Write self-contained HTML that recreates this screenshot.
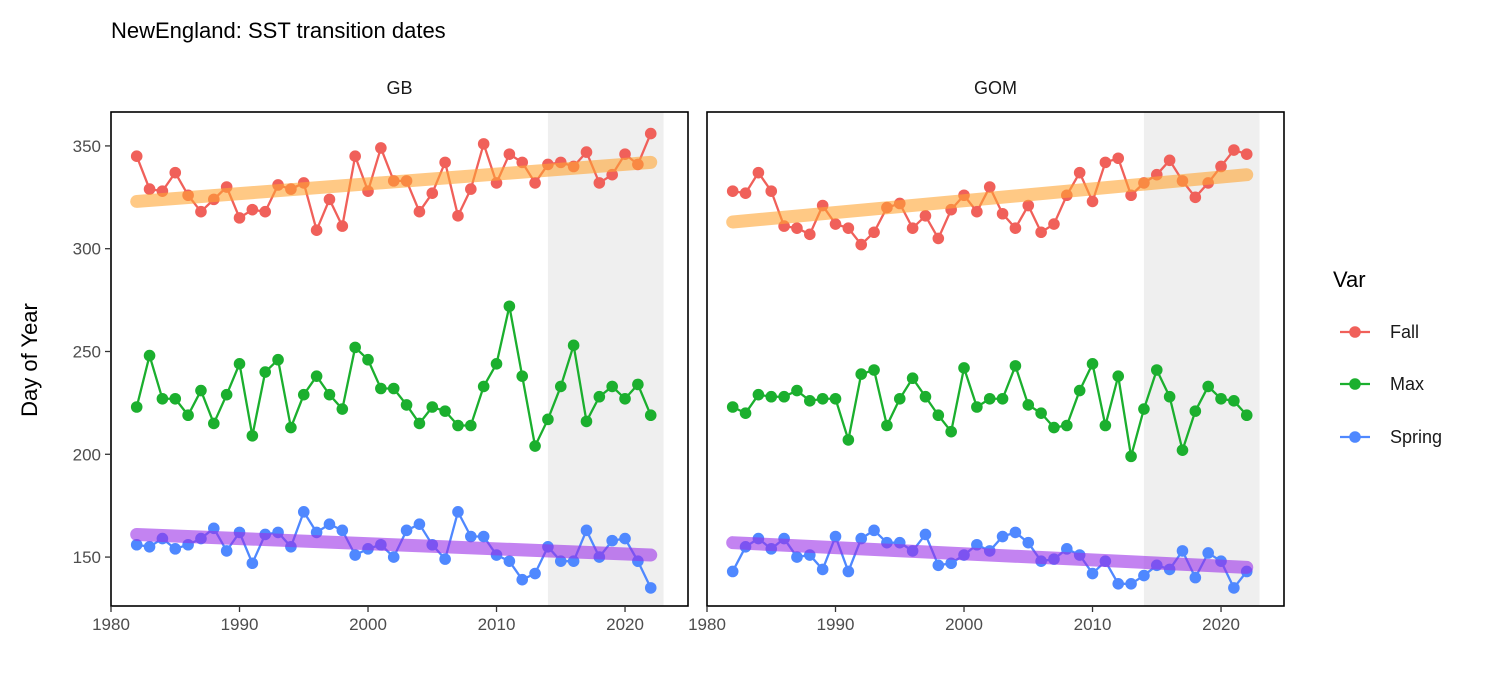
<!DOCTYPE html>
<html><head><meta charset="utf-8"><style>
body{margin:0;background:#fff;}
svg{display:block;font-family:"Liberation Sans",Arial,sans-serif;}
</style></head><body>
<svg id="c" width="1512" height="680"></svg>
<script>
const years=[];for(let y=1982;y<=2022;y++)years.push(y);
const gbFall=[345,329,328,337,326,318,324,330,315,319,318,331,329,332,309,324,311,345,328,349,333,333,318,327,342,316,329,351,332,346,342,332,341,342,340,347,332,336,346,341,356];
const gbMax=[223,248,227,227,219,231,215,229,244,209,240,246,213,229,238,229,222,252,246,232,232,224,215,223,221,214,214,233,244,272,238,204,217,233,253,216,228,233,227,234,219];
const gbSpring=[156,155,159,154,156,159,164,153,162,147,161,162,155,172,162,166,163,151,154,156,150,163,166,156,149,172,160,160,151,148,139,142,155,148,148,163,150,158,159,148,135];
const gomFall=[328,327,337,328,311,310,307,321,312,310,302,308,320,322,310,316,305,319,326,318,330,317,310,321,308,312,326,337,323,342,344,326,332,336,343,333,325,332,340,348,346];
const gomMax=[223,220,229,228,228,231,226,227,227,207,239,241,214,227,237,228,219,211,242,223,227,227,243,224,220,213,214,231,244,214,238,199,222,241,228,202,221,233,227,226,219];
const gomSpring=[143,155,159,154,159,150,151,144,160,143,159,163,157,157,153,161,146,147,151,156,153,160,162,157,148,149,154,151,142,148,137,137,141,146,144,153,140,152,148,135,143];
const gbFallTrend=[323,342];
const gbSpringTrend=[161,151];
const gomFallTrend=[313,336];
const gomSpringTrend=[157,145];
const xTicks=[1980,1990,2000,2010,2020];
const yTicks=[150,200,250,300,350];
const shade=[2014,2023];

const NS="http://www.w3.org/2000/svg";
const svg=document.getElementById('c');
function mk(t,a,p){const e=document.createElementNS(NS,t);for(const k in a)e.setAttribute(k,a[k]);(p||svg).appendChild(e);return e;}
const pTop=112,pBot=606,xw=577;
const yS=v=>pTop+(366.5-v)/(366.5-126.2)*(pBot-pTop);
const lineC={Fall:'#F0605A',Max:'#1BAF2E',Spring:'#4F88FF'};

let t=mk('text',{x:111,y:38,'font-size':22,fill:'#000'});t.textContent='NewEngland: SST transition dates';


t=mk('text',{x:37,y:360,'font-size':22,fill:'#000','text-anchor':'middle',transform:'rotate(-90 37 360)'});t.textContent='Day of Year';



function panel(x0,name,fall,max,spring,ft,st,showY){
  const g=mk('g',{});
  
  
  const xS=v=>x0+(v-1980)/(2024.9-1980)*xw;
  let s=mk('text',{x:x0+xw/2,y:94,'font-size':18,'text-anchor':'middle',fill:'#1a1a1a'},g);s.textContent=name;
  
  
  const r=mk('rect',{x:xS(shade[0]),y:pTop,width:xS(shade[1])-xS(shade[0]),height:pBot-pTop,fill:'#efefef'},g);
  
  
  function trend(tr,c,nm){const l=mk('line',{x1:xS(years[0]),y1:yS(tr[0]),x2:xS(years[years.length-1]),y2:yS(tr[1]),stroke:c,'stroke-width':13,'stroke-linecap':'round','stroke-opacity':0.6},g);
    
    }
  function series(vals,key){
    const pts=vals.map((v,i)=>xS(years[i])+','+yS(v)).join(' ');
    const pl=mk('polyline',{points:pts,fill:'none',stroke:lineC[key],'stroke-width':2.3},g);
    
    
    vals.forEach((v,i)=>{const c=mk('circle',{cx:xS(years[i]),cy:yS(v),r:5.8,fill:lineC[key]},g);
      
      });
  }
  series(fall,'Fall');series(max,'Max');series(spring,'Spring');
  trend(ft,'#FFA533','fall-trend');trend(st,'#9B30E8','spring-trend');
  const b=mk('rect',{x:x0,y:pTop,width:xw,height:pBot-pTop,fill:'none',stroke:'#000','stroke-width':1.6},g);
  
  
  xTicks.forEach(v=>{mk('line',{x1:xS(v),x2:xS(v),y1:pBot,y2:pBot+6,stroke:'#333','stroke-width':1.3},g);
    const tx=mk('text',{x:xS(v),y:pBot+24,'font-size':17,'text-anchor':'middle',fill:'#4d4d4d'},g);tx.textContent=v;
    
    });
  if(showY)yTicks.forEach(v=>{mk('line',{x1:x0-6,x2:x0,y1:yS(v),y2:yS(v),stroke:'#333','stroke-width':1.3},g);
    const ty=mk('text',{x:x0-10,y:yS(v)+6,'font-size':17,'text-anchor':'end',fill:'#4d4d4d'},g);ty.textContent=v;
    
    });
}
panel(111,'GB',gbFall,gbMax,gbSpring,gbFallTrend,gbSpringTrend,true);
panel(707,'GOM',gomFall,gomMax,gomSpring,gomFallTrend,gomSpringTrend,false);

t=mk('text',{x:1333,y:287,'font-size':22,fill:'#000'});t.textContent='Var';


[['Fall',332],['Max',384],['Spring',437]].forEach(([k,y])=>{
  const g=mk('g',{});
  
  
  mk('line',{x1:1340,x2:1370,y1:y,y2:y,stroke:lineC[k],'stroke-width':2.3},g);
  mk('circle',{cx:1355,cy:y,r:5.8,fill:lineC[k]},g);
  const l=mk('text',{x:1390,y:y+6,'font-size':18,fill:'#1a1a1a'},g);l.textContent=k;
});
</script>
</body></html>
